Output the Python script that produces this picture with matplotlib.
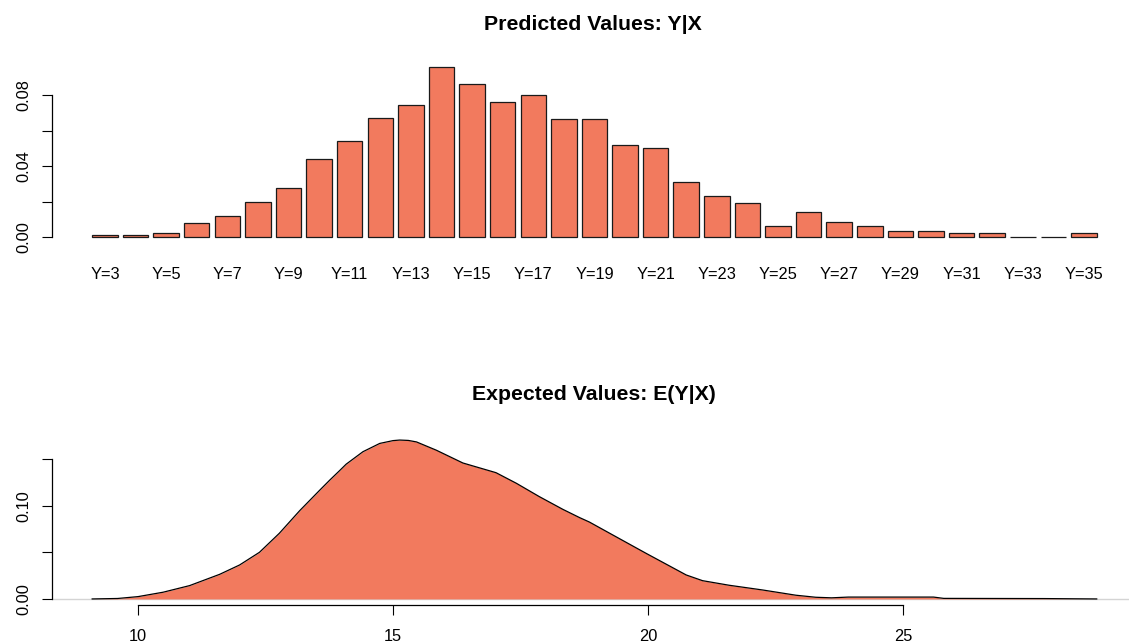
import matplotlib
matplotlib.use("Agg")
import matplotlib.pyplot as plt
import numpy as np

plt.rcParams['font.family'] = ['Liberation Sans', 'DejaVu Sans']

# predicted values Y|X : share of simulations for each outcome
y_labels = ["Y=%d" % k for k in range(3, 36)]
y_probs = [0.0013, 0.0013, 0.0022, 0.0082, 0.0121, 0.0200, 0.0275, 0.0442,
           0.0543, 0.0672, 0.0744, 0.0956, 0.0863, 0.0762, 0.0802, 0.0663,
           0.0663, 0.0521, 0.0502, 0.0311, 0.0230, 0.0194, 0.0064, 0.0144,
           0.0084, 0.0064, 0.0035, 0.0035, 0.0022, 0.0022, 0.0, 0.0, 0.0022]

# expected values E(Y|X) : kernel density of the simulated means
ev_x = [9.10, 9.60, 10.00, 10.49, 11.01, 11.60, 11.99, 12.38, 12.77, 13.17,
        13.56, 13.76, 13.95, 14.08, 14.41, 14.74, 15.00, 15.13, 15.30, 15.46,
        15.85, 16.37, 17.02, 17.42, 17.87, 18.33, 18.66, 18.85, 19.31, 19.96,
        20.35, 20.75, 21.07, 21.59, 22.25, 22.90, 23.29, 23.60, 23.93, 25.60,
        25.80, 27.77, 28.80]
ev_dens = [0.0000, 0.0005, 0.0025, 0.0072, 0.0143, 0.0264, 0.0364, 0.0500,
           0.0704, 0.0947, 0.1165, 0.1275, 0.1375, 0.1445, 0.1579, 0.1668,
           0.1698, 0.1704, 0.1700, 0.1684, 0.1595, 0.1458, 0.1354, 0.1240,
           0.1097, 0.0961, 0.0872, 0.0825, 0.0686, 0.0490, 0.0375, 0.0257,
           0.0196, 0.0147, 0.0096, 0.0040, 0.0018, 0.0012, 0.0020, 0.0020,
           0.0006, 0.0004, 0.0000]

fill_col = "#F27A5E"
W, H = 1129, 644
fig = plt.figure(figsize=(W / 100, H / 100), dpi=100)

# R-like plot regions (4% padding on data range)
ax1 = fig.add_axes([52 / W, 1 - 245.9 / H, 1084.9 / W, 185.5 / H])
ax2 = fig.add_axes([52 / W, 1 - 605.3 / H, 1084.9 / W, 171.6 / H])

lab_size = 11.8
tick_kw = dict(direction="out", length=7.2, width=0.8, color="black",
               labelsize=lab_size)

# ---- top: bar plot
pos = np.arange(len(y_probs)) * 1.2
ax1.bar(pos, y_probs, width=1.0, color=fill_col, edgecolor="#1a1a1a",
        linewidth=0.9)
lo, hi = pos[0] - 0.5, pos[-1] + 0.5
ax1.set_xlim(lo - 0.04 * (hi - lo), hi + 0.04 * (hi - lo))
m = max(y_probs)
r = m * 1.01
ax1.set_ylim(-0.01 * m - 0.04 * r, m + 0.04 * r)
ax1.set_xticks(pos[::2])
ax1.set_xticklabels(y_labels[::2])
ax1.tick_params(axis="x", length=0, pad=15, labelsize=lab_size)
ax1.set_yticks([0, 0.02, 0.04, 0.06, 0.08])
ax1.set_yticklabels(["0.00", "", "0.04", "", "0.08"], rotation=90, va="center")
ax1.tick_params(axis="y", pad=8, **tick_kw)
for s in ["top", "right", "bottom"]:
    ax1.spines[s].set_visible(False)
ax1.spines["left"].set_bounds(0, 0.08)
ax1.spines["left"].set_linewidth(0.9)

# ---- bottom: density
ax2.axhline(0, color="#d4d4d4", linewidth=1.0, zorder=1)
ax2.fill_between(ev_x, ev_dens, 0, color=fill_col, linewidth=0, zorder=2)
ax2.plot(ev_x, ev_dens, color="black", linewidth=0.9, zorder=3)
xr = ev_x[-1] - ev_x[0]
ax2.set_xlim(ev_x[0] - 0.04 * xr, ev_x[-1] + 0.04 * xr)
dm = max(ev_dens)
ax2.set_ylim(-0.04 * dm, 1.04 * dm)
ax2.set_xticks([10, 15, 20, 25])
ax2.tick_params(axis="x", pad=10, **tick_kw)
ax2.set_yticks([0, 0.05, 0.10, 0.15])
ax2.set_yticklabels(["0.00", "", "0.10", ""], rotation=90, va="center")
ax2.tick_params(axis="y", pad=8, **tick_kw)
for s in ["top", "right"]:
    ax2.spines[s].set_visible(False)
ax2.spines["left"].set_bounds(0, 0.15)
ax2.spines["bottom"].set_bounds(10, 25)
ax2.spines["left"].set_linewidth(0.9)
ax2.spines["bottom"].set_linewidth(0.9)

fig.text(593 / W, 1 - 25 / H, "Predicted Values: Y|X", ha="center",
         va="center", fontsize=15.3, fontweight="bold")
fig.text(594 / W, 1 - 395 / H, "Expected Values: E(Y|X)", ha="center",
         va="center", fontsize=15.3, fontweight="bold")

fig.savefig("out.png", dpi=100)
